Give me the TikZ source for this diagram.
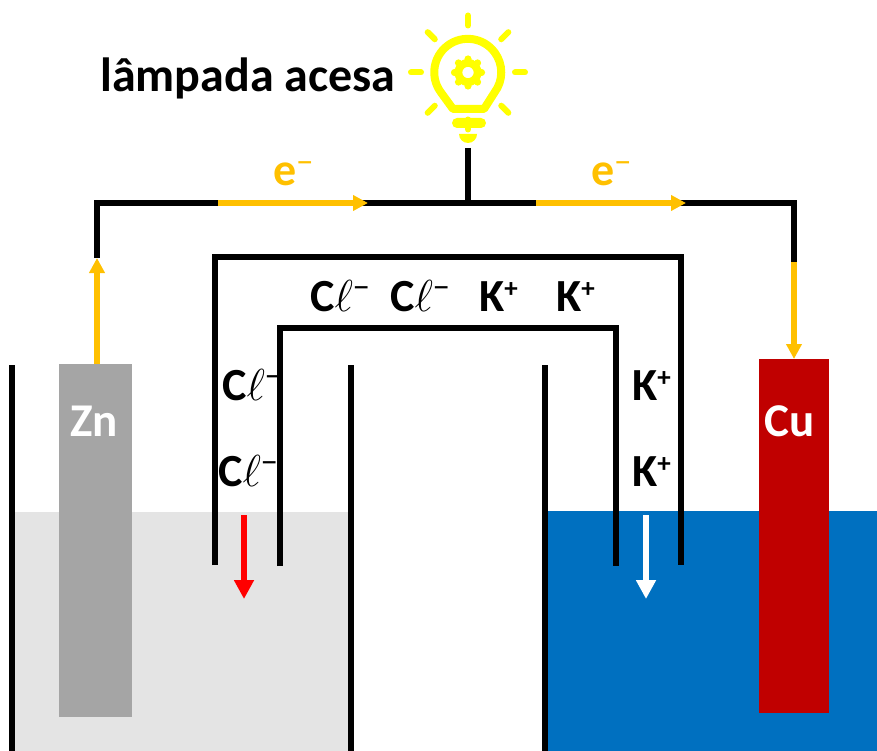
\documentclass[tikz,border=0pt]{standalone}
\usepackage{xcolor}
\usepackage{amsmath, amssymb}
\usepackage{fontspec}
\setmainfont{Carlito}
\usetikzlibrary{arrows.meta}
\definecolor{eorange}{HTML}{FFC000}
\definecolor{lampyellow}{HTML}{FFFF00}
\definecolor{znfill}{HTML}{A5A5A5}
\definecolor{cufill}{HTML}{C00000}
\definecolor{solgray}{HTML}{E4E4E4}
\definecolor{solblue}{HTML}{0070C0}
\newcommand{\minussup}{\raisebox{13pt}{\fontsize{34}{34}\mdseries −}}
\newcommand{\plussup}{\raisebox{14pt}{\fontsize{27}{27}\selectfont +}}
\newcommand{\clion}{C\scalebox{1.8}{$\ell$}\minussup}
\newcommand{\kion}{K\plussup}
\tikzset{
	wire/.style={draw=black, line width=6pt, line join=miter},
	wall/.style={draw=black, line width=6pt},
	eflow/.style={draw=eorange, line width=5.5pt, -{Triangle[length=15pt, width=15pt]}},
	ionflow/.style={line width=6pt, -{Triangle[length=19pt, width=19pt]}},
	ion/.style={inner sep=0pt, anchor=base west, font=\bfseries\fontsize{46}{46}\selectfont},
	eletext/.style={inner sep=0pt, anchor=center, text=white, font=\bfseries\fontsize{47}{47}\selectfont},
	electrode/.style={inner sep=0pt, minimum width=#1, anchor=north},
	ray/.style={draw=lampyellow, line width=6pt, line cap=round},
}
\begin{document}
\begin{tikzpicture}[x=1pt, y=-1pt]
	\useasboundingbox (0,0) rectangle (877,751);

	\fill[solgray] (14,512) rectangle (349,751);
	\fill[solblue] (547,511) rectangle (877,751);

	\node[electrode=73pt, minimum height=353pt, fill=znfill] (zn) at (95.5,364) {};
	\node[electrode=70pt, minimum height=354pt, fill=cufill] (cu) at (794,359) {};
	\node[eletext] (znlabel) at (94,421) {Zn};
	\node[eletext] (culabel) at (790,421) {Cu};

	\draw[wall] (12,365) -- (12,751);
	\draw[wall] (351,365) -- (351,751);
	\draw[wall] (545,365) -- (545,751);

	% external circuit
	\coordinate (corner1) at (97,203);
	\coordinate (corner2) at (794,203);
	\coordinate (zntop) at (97,258);
	\coordinate (cutop) at (794,262);
	\coordinate (junction) at (468,203);
	\coordinate (stem) at (468,148);
	\coordinate (e1start) at (218,203);
	\coordinate (e1end) at (368,203);
	\coordinate (e2start) at (536,203);
	\coordinate (e2end) at (686,203);
	\draw[wire] (zntop) -- (corner1) -- (corner2) -- (cutop);
	\draw[wire] (stem) -- (junction);
	\draw[eflow] (zn.north -| zntop) -- (zntop);
	\draw[eflow] (cutop) -- (cu.north);
	\draw[eflow] (e1start) -- (e1end);
	\draw[eflow] (e2start) -- (e2end);

	% salt bridge
	\coordinate (outer1) at (215,565);
	\coordinate (outer2) at (215,257);
	\coordinate (outer3) at (681,257);
	\coordinate (outer4) at (681,565);
	\coordinate (inner1) at (280,566);
	\coordinate (inner2) at (280,328);
	\coordinate (inner3) at (616,328);
	\coordinate (inner4) at (616,566);
	\draw[wire] (outer1) -- (outer2) -- (outer3) -- (outer4);
	\draw[wire] (inner1) -- (inner2) -- (inner3) -- (inner4);

	\coordinate (red1) at (244,515);
	\coordinate (red2) at (244,599);
	\coordinate (white1) at (646,515);
	\coordinate (white2) at (646,599);
	\draw[ionflow, draw=red, red] (red1) -- (red2);
	\draw[ionflow, draw=white, white] (white1) -- (white2);

	\node[ion] (cl1) at (310,311) {\clion};
	\node[ion] (cl2) at (390,311) {\clion};
	\node[ion] (k1) at (479,311) {\kion};
	\node[ion] (k2) at (556,311) {\kion};
	\node[ion] (cl3) at (222,400) {\clion};
	\node[ion] (cl4) at (218,486) {\clion};
	\node[ion] (k3) at (632,400) {\kion};
	\node[ion] (k4) at (632,486) {\kion};

	\node[ion, text=eorange] (e1) at (273,186) {e\minussup};
	\node[ion, text=eorange] (e2) at (591,186) {e\minussup};
	\node[ion, font=\bfseries\fontsize{48}{48}\selectfont] (lamptext) at (100,92) {lâmpada acesa};

	% lamp
	\foreach \ang in {0,45,...,315}{
		\draw[ray] (468,72.5) ++(\ang:47) -- ++(\ang:10);
	}
	\draw[draw=lampyellow, line width=8pt, line join=round]
		(441,92.5) arc[start angle=143, end angle=397, radius=33.5]
		-- (484,109) -- (453,109) -- cycle;
	\foreach \ang in {0,45,...,315}{
		\fill[lampyellow] (468,72.5) ++(\ang:13.5) circle (3.6pt);
	}
	\fill[lampyellow, even odd rule] (468,72.5) circle (13.5pt) (468,72.5) circle (5.7pt);
	\fill[lampyellow, rounded corners=5pt] (452,118) rectangle (486,128);
	\fill[lampyellow] (459,134) -- (477,134) arc[start angle=0, end angle=180, radius=9] -- cycle;
\end{tikzpicture}
\end{document}
